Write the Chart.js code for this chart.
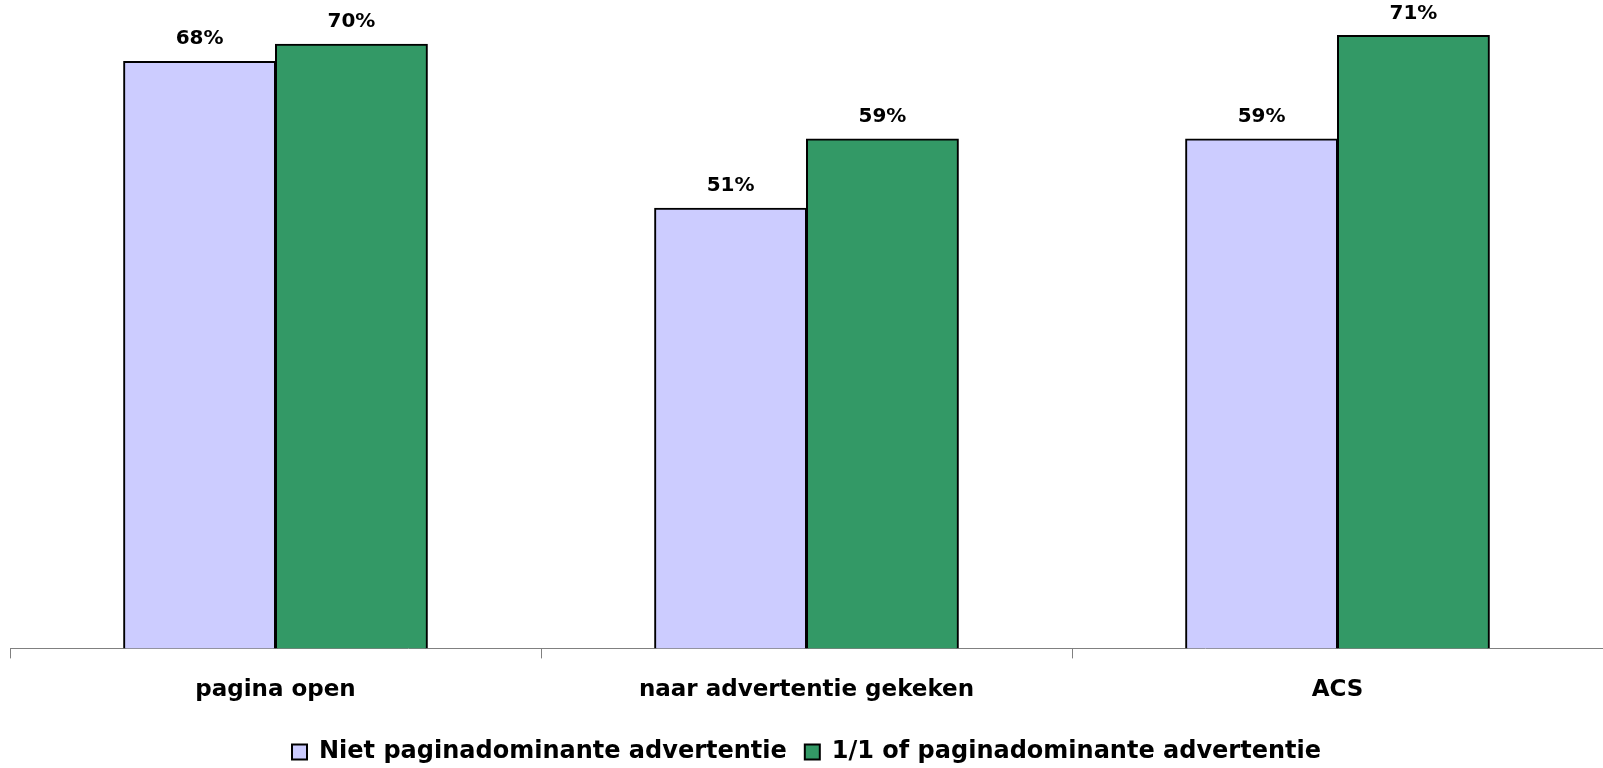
<!DOCTYPE html>
<html>
<head>
<meta charset="utf-8">
<script src="https://cdn.jsdelivr.net/npm/chart.js"></script>
<style>
  html, body { margin: 0; padding: 0; background: #fff; overflow: hidden; }
  #wrap { width: 1603px; height: 768px; }
</style>
</head>
<body>
<div id="wrap"><canvas id="grafiek" width="1603" height="768"></canvas></div>
<script>
// gegevens
const categorieen = ['pagina open', 'naar advertentie gekeken', 'ACS'];
const nietDominant = [68, 51, 59];
const paginaDominant = [70, 59, 71];
const reeksNamen = ['Niet paginadominante advertentie', '1/1 of paginadominante advertentie'];

const lettertype = '"DejaVu Sans", Verdana, sans-serif';

// waarden boven de staven
const waardeLabels = {
    id: 'waardeLabels',
    afterDatasetsDraw(chart) {
        const ctx = chart.ctx;
        ctx.save();
        ctx.font = 'bold 20px ' + lettertype;
        ctx.fillStyle = '#000';
        ctx.textAlign = 'center';
        ctx.textBaseline = 'alphabetic';
        chart.data.datasets.forEach((ds, i) => {
            chart.getDatasetMeta(i).data.forEach((bar, j) => {
                ctx.fillText(ds.data[j] + '%', bar.x, bar.y - 17);
            });
        });
        ctx.restore();
    }
};

const ctx = document.getElementById('grafiek').getContext('2d');
const grafiek = new Chart(ctx, {
    type: 'bar',
    data: {
        labels: categorieen,
        datasets: [{
            label: reeksNamen[0],
            data: nietDominant,
            backgroundColor: '#CCCCFF',
            borderColor: '#000',
            borderWidth: 2,
            inflateAmount: 0.5
        }, {
            label: reeksNamen[1],
            data: paginaDominant,
            backgroundColor: '#339966',
            borderColor: '#000',
            borderWidth: 2,
            inflateAmount: 0.5
        }]
    },
    options: {
        responsive: false,
        animation: false,
        categoryPercentage: 0.572,
        barPercentage: 1,
        layout: {
            padding: { top: 1, left: 10, right: 0, bottom: -6 }
        },
        scales: {
            x: {
                grid: {
                    display: true,
                    offset: true,
                    drawOnChartArea: false,
                    drawTicks: true,
                    tickLength: 10,
                    color: '#808080'
                },
                border: { display: true, color: '#808080', width: 1 },
                ticks: {
                    color: '#000',
                    padding: 18,
                    font: { family: lettertype, size: 23, weight: 'bold' }
                }
            },
            y: {
                display: false,
                min: 0,
                max: 75
            }
        },
        plugins: {
            legend: {
                position: 'bottom',
                labels: {
                    color: '#000',
                    boxWidth: 15,
                    boxHeight: 15,
                    padding: 18,
                    font: { family: lettertype, size: 24, weight: 'bold' }
                }
            },
            tooltip: { enabled: false }
        }
    },
    plugins: [waardeLabels]
});
</script>
</body>
</html>
